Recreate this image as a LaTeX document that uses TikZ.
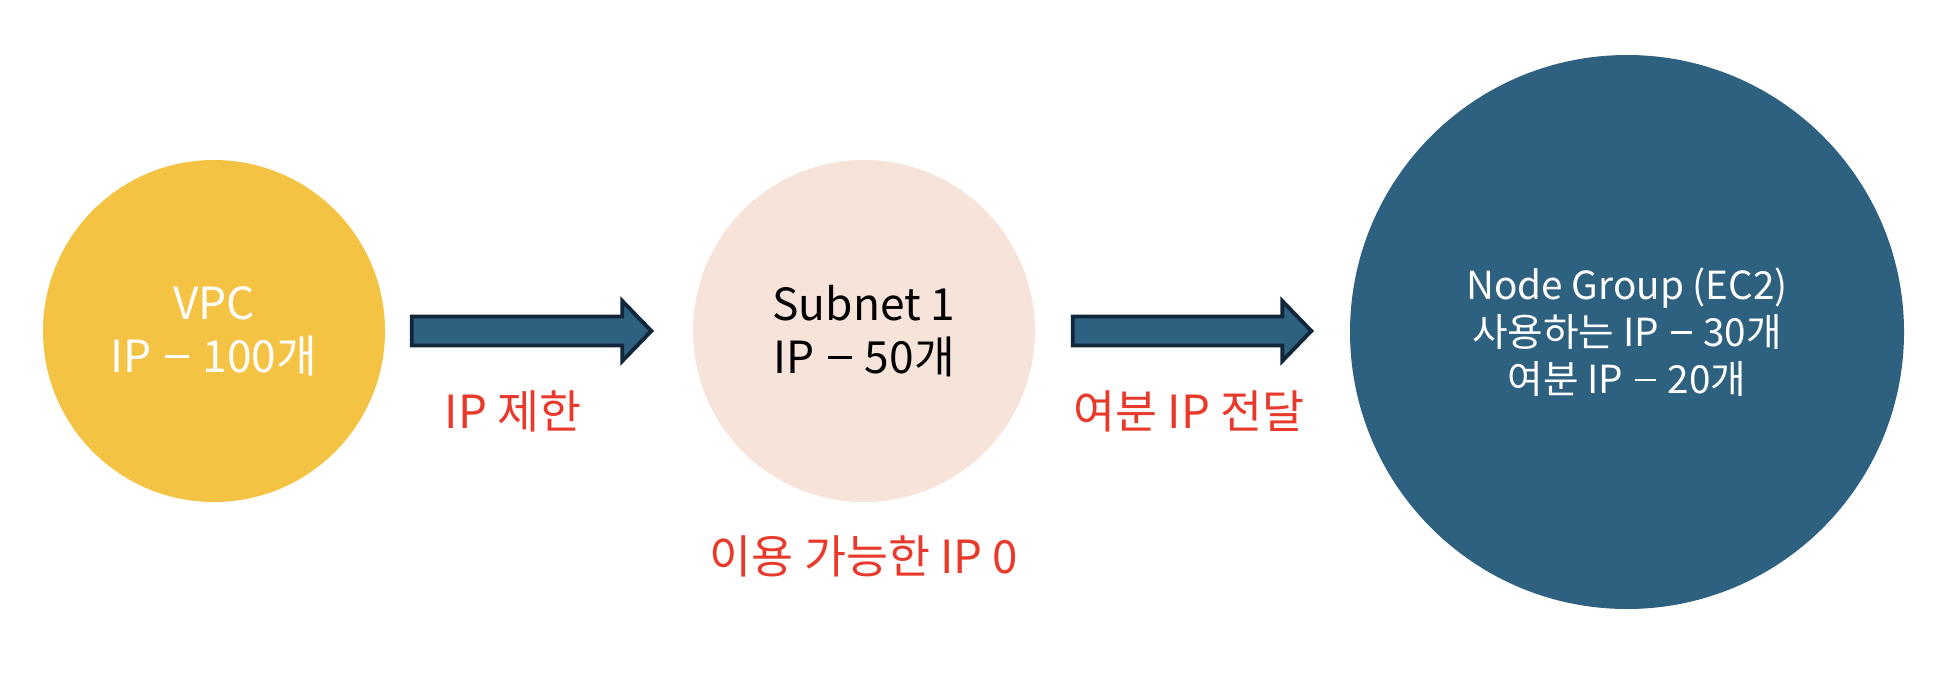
\documentclass[tikz,border=0pt]{standalone}
\usepackage{fontspec}
\setmainfont{Noto Sans CJK KR}
\usepackage{tikz}
\usetikzlibrary{calc,positioning}

\definecolor{vpcyellow}{HTML}{F4C343}
\definecolor{subnetpeach}{HTML}{F6E4DA}
\definecolor{ngblue}{HTML}{2E6080}
\definecolor{arrowline}{HTML}{10263A}
\definecolor{labelred}{HTML}{E8392B}

\newcommand{\ipdash}{\hspace{0.08em}\rule[0.33em]{0.54em}{0.055em}\hspace{0.08em}}

\tikzset{
  pool/.style={circle,inner sep=0pt,align=center,text=white,
    font=\fontsize{12.6pt}{15pt}\selectfont},
  note/.style={text=labelred,font=\fontsize{13pt}{15pt}\selectfont},
  fatarrow/.style={fill=ngblue,draw=arrowline,line width=1.1pt,line join=miter}
}

% block arrow from #1 to #2 (tip at #2)
\newcommand{\fatarrow}[2]{%
  \draw[fatarrow] let \p1=(#1), \p2=(#2) in
    (\x1,\y1+0.145cm) -- (\x2-0.29cm,\y1+0.145cm) -- (\x2-0.29cm,\y1+0.3cm)
    -- (\x2,\y1) -- (\x2-0.29cm,\y1-0.3cm) -- (\x2-0.29cm,\y1-0.145cm)
    -- (\x1,\y1-0.145cm) -- cycle;}

\begin{document}
\begin{tikzpicture}
  \useasboundingbox (0,0) rectangle (19.52,6.72);

  \node[pool,fill=vpcyellow,minimum size=3.42cm] (vpc) at (2.14,3.41) {VPC\\IP \ipdash{} 100개};
  \node[pool,fill=subnetpeach,text=black,minimum size=3.42cm] (subnet) at (8.64,3.41) {Subnet 1\\IP \ipdash{} 50개};
  \node[pool,fill=ngblue,minimum size=5.54cm,font=\fontsize{11pt}{13.4pt}\selectfont] (ng) at (16.27,3.40)
    {Node Group (EC2)\\사용하는 IP \ipdash{} 30개\\여분 IP \ipdash{} 20개};

  % arrow ends
  \coordinate (a1s) at ($(vpc.east)+(0.26,0)$);
  \coordinate (a1e) at ($(subnet.west)+(-0.41,0)$);
  \coordinate (a2s) at ($(subnet.east)+(0.37,0)$);
  \coordinate (a2e) at ($(ng.west)+(-0.38,0)$);
  \fatarrow{a1s}{a1e}
  \fatarrow{a2s}{a2e}

  \node[note] (limit) at (5.13,2.61) {IP 제한};
  \node[note] (pass) at (11.89,2.61) {여분 IP 전달};
  \node[note] (avail) at (8.64,1.16) {이용 가능한 IP 0};
\end{tikzpicture}
\end{document}
